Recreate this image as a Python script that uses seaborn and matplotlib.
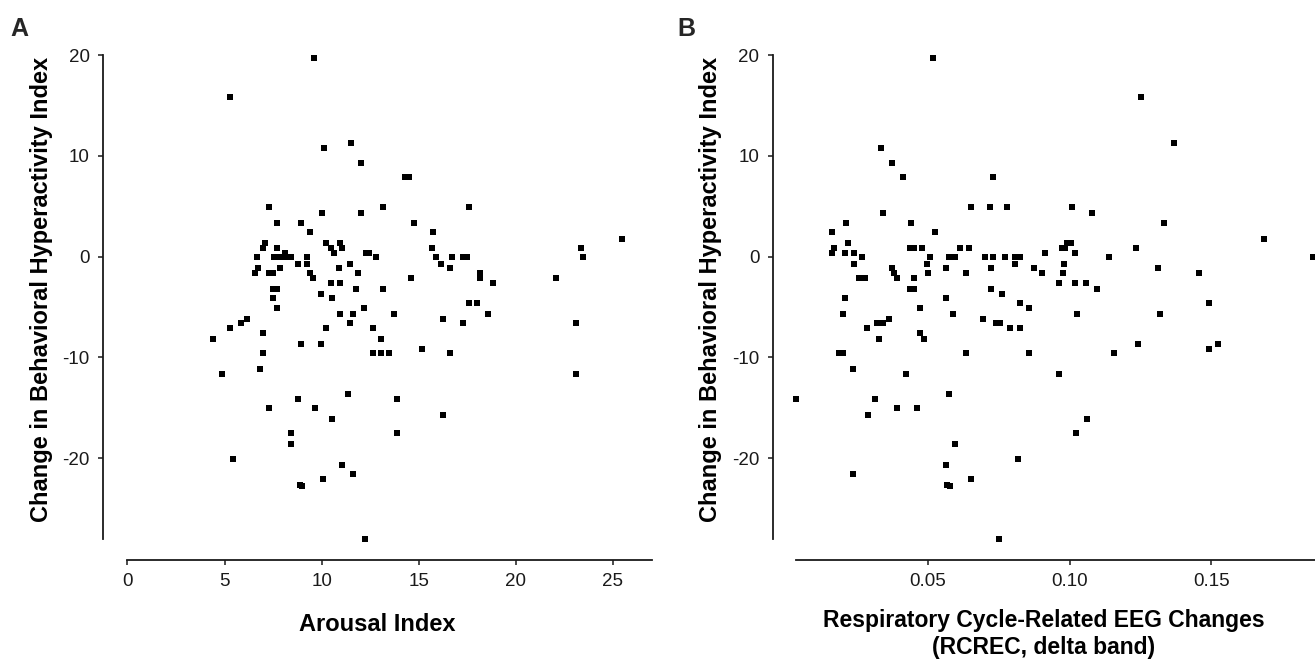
import numpy as np
import pandas as pd
import seaborn as sns
import matplotlib
matplotlib.use("Agg")
import matplotlib.pyplot as plt

# Panel A: Arousal Index vs change in hyperactivity
arousal = [9.6, 5.3, 10.1, 11.5, 12.0, 7.3, 10.0, 12.0, 7.7, 8.95, 9.4, 7.1, 7.0, 7.7,
           10.24, 10.96, 10.5, 10.65, 11.06, 8.13, 6.68, 7.56, 7.87, 8.13, 8.44, 9.26,
           12.3, 12.45, 12.81, 6.74, 6.58, 7.3, 7.51, 7.87, 8.8, 9.26, 9.41, 9.57, 10.91,
           11.47, 11.89, 10.5, 10.96, 11.78, 7.51, 7.71, 7.51, 9.98, 10.55,
           14.29, 14.51, 13.17, 17.6, 14.77, 15.75, 15.69, 15.9, 16.73, 17.28, 17.47,
           16.16, 16.62, 18.17, 18.17, 18.84, 14.61, 22.08, 23.37, 23.47, 25.48, 13.17,
           7.71, 12.19, 10.96, 11.63, 6.17, 5.86, 11.47, 5.29, 6.99, 10.24, 12.66, 4.42,
           13.07, 8.95, 9.98, 6.99, 12.66, 13.07, 6.84, 4.88, 11.37, 8.8, 7.3, 9.67,
           10.55, 8.44, 8.44, 5.45, 11.06, 11.63, 10.08, 8.9, 9.0, 12.25,
           17.6, 18.01, 13.74, 18.58, 16.26, 17.29, 23.11, 13.48, 15.18, 16.62, 23.11,
           13.89, 16.26, 13.89]
change_a = [19.7, 15.8, 10.8, 11.25, 9.25, 4.9, 4.3, 4.3, 3.3, 3.3, 2.4, 1.33, 0.83, 0.83,
            1.33, 1.33, 0.83, 0.33, 0.83, 0.33, 0.0, 0.0, 0.0, 0.0, 0.0, 0.0,
            0.33, 0.33, 0.0, -1.15, -1.65, -1.65, -1.65, -1.15, -0.75, -0.75, -1.65, -2.14, -1.15,
            -0.75, -1.65, -2.64, -2.64, -3.23, -3.23, -3.23, -4.1, -3.73, -4.1,
            7.87, 7.87, 4.9, 4.9, 3.31, 2.42, 0.83, 0.0, 0.0, 0.0, 0.0,
            -0.75, -1.15, -1.65, -2.14, -2.64, -2.14, -2.14, 0.83, 0.0, 1.73, -3.23,
            -5.12, -5.12, -5.71, -5.71, -6.21, -6.61, -6.61, -7.11, -7.6, -7.11, -7.11, -8.2,
            -8.2, -8.69, -8.69, -9.59, -9.59, -9.59, -11.17, -11.67, -13.65, -14.15, -15.04, -15.04,
            -16.13, -17.52, -18.61, -20.1, -20.7, -21.59, -22.08, -22.6, -22.7, -28.04,
            -4.63, -4.63, -5.71, -5.71, -6.21, -6.61, -6.61, -9.59, -9.19, -9.59, -11.67,
            -14.15, -15.73, -17.52]

# Panel B: RCREC (delta band) vs change in hyperactivity
rcrec = [0.0519, 0.0335, 0.0374, 0.0413, 0.0731, 0.0342, 0.0653, 0.0720, 0.0780, 0.0212,
         0.0441, 0.0162, 0.0526, 0.0219, 0.0169, 0.0162, 0.0208, 0.0240, 0.0268, 0.0240,
         0.0258, 0.0279, 0.0208, 0.0374, 0.0381, 0.0392, 0.0436, 0.0452, 0.0480, 0.0452,
         0.0436, 0.0452, 0.0498, 0.0501, 0.0508, 0.0565, 0.0575, 0.0597, 0.0565, 0.0614,
         0.0646, 0.0635, 0.0703, 0.0731, 0.0724, 0.0773, 0.0808, 0.0826, 0.0808, 0.0724,
         0.0763, 0.0875, 0.0904, 0.0914,
         0.1253, 0.1370, 0.1010, 0.1080, 0.1334, 0.0992, 0.1006, 0.0973, 0.0985, 0.1020,
         0.1235, 0.1140, 0.1687, 0.1860, 0.0981, 0.0975, 0.1313, 0.1458, 0.0963, 0.1020,
         0.1059, 0.1098,
         0.0826, 0.0858, 0.0201, 0.0473, 0.0590, 0.0364, 0.0321, 0.0342, 0.0695, 0.0741,
         0.0755, 0.0286, 0.0791, 0.0826, 0.0473, 0.0328, 0.0487, 0.0187, 0.0201, 0.0635,
         0.0858, 0.0237, 0.0424, 0.0035, 0.0314, 0.0575, 0.0392, 0.0462, 0.0289, 0.0597,
         0.0819, 0.0565, 0.0237, 0.0653, 0.0568, 0.0576, 0.0752,
         0.1493, 0.1025, 0.1320, 0.1243, 0.1493, 0.1525, 0.1158, 0.0963, 0.1063, 0.1024]
change_b = [19.7, 10.82, 9.25, 7.87, 7.87, 4.3, 4.9, 4.9, 4.9, 3.31,
            3.31, 2.42, 2.42, 1.33, 0.83, 0.33, 0.33, 0.33, 0.0, -0.75,
            -2.14, -2.14, -4.07, -1.15, -1.65, -2.14, 0.83, 0.83, 0.83, -2.14,
            -3.23, -3.23, -0.75, -1.65, 0.0, -1.15, 0.0, 0.0, -4.07, 0.83,
            0.83, -1.65, 0.0, 0.0, -1.15, 0.0, 0.0, 0.0, -0.75, -3.23,
            -3.73, -1.15, -1.65, 0.33,
            15.81, 11.25, 4.9, 4.3, 3.31, 1.33, 1.33, 0.83, 0.83, 0.33,
            0.83, 0.0, 1.73, 0.0, -0.75, -1.65, -1.15, -1.65, -2.64, -2.64,
            -2.64, -3.23,
            -4.63, -5.12, -5.71, -5.12, -5.71, -6.21, -6.61, -6.61, -6.21, -6.61,
            -6.61, -7.11, -7.11, -7.11, -7.6, -8.2, -8.2, -9.59, -9.59, -9.59,
            -9.59, -11.17, -11.67, -14.15, -14.15, -13.65, -15.04, -15.04, -15.73, -18.61,
            -20.1, -20.7, -21.59, -22.08, -22.6, -22.7, -28.04,
            -4.63, -5.71, -5.71, -8.69, -9.19, -8.69, -9.59, -11.67, -16.13, -17.52]

df_a = pd.DataFrame({"x": arousal, "y": change_a})
df_b = pd.DataFrame({"x": rcrec, "y": change_b})

sns.set_style("ticks")
plt.rcParams["font.family"] = ["Liberation Sans", "DejaVu Sans"]
plt.rcParams["axes.unicode_minus"] = False

fig = plt.figure(figsize=(13.15, 6.6), dpi=100)
ax_a = fig.add_axes([0.0781, 0.1515, 0.4177, 0.7727])
ax_b = fig.add_axes([0.5875, 0.1515, 0.4125, 0.7727])

ylab = "Change in Behavioral Hyperactivity Index"

def style_axis(ax, xlim, xbound_lo, ylab_x):
    ax.set_ylim(-30.09, 20.5)
    ax.set_xlim(*xlim)
    ax.set_yticks([-20, -10, 0, 10, 20])
    ax.spines["top"].set_visible(False)
    ax.spines["right"].set_visible(False)
    ax.spines["left"].set_bounds(-28.04, 20)
    ax.spines["bottom"].set_bounds(xbound_lo, xlim[1])
    for s in ["left", "bottom"]:
        ax.spines[s].set_linewidth(1.3)
        ax.spines[s].set_color("#1a1a1a")
    ax.tick_params(axis="both", labelsize=13.5, length=3.5, width=1.1, color="#1a1a1a",
                   labelcolor="#1a1a1a", pad=6)
    ax.set_ylabel(ylab, fontsize=17, fontweight="bold", color="black")
    ax.yaxis.set_label_coords(ylab_x, 0.53)

sns.scatterplot(data=df_a, x="x", y="y", ax=ax_a, marker="s", s=13, color="black",
                linewidth=0)
style_axis(ax_a, (-1.277, 27.01), 0, -0.090)
ax_a.set_xticks([0, 5, 10, 15, 20, 25])
ax_a.set_xlabel("Arousal Index", fontsize=17, fontweight="bold", color="black")
ax_a.xaxis.set_label_coords(0.5, -0.103)

sns.scatterplot(data=df_b, x="x", y="y", ax=ax_b, marker="s", s=13, color="black",
                linewidth=0)
style_axis(ax_b, (-0.00487, 0.18662), min(rcrec), -0.093)
ax_b.set_xticks([0.05, 0.10, 0.15])
ax_b.set_xticklabels(["0.05", "0.10", "0.15"])
ax_b.set_xlabel("Respiratory Cycle-Related EEG Changes\n(RCREC, delta band)",
                fontsize=16.5, fontweight="bold", color="black", linespacing=1.2)
ax_b.xaxis.set_label_coords(0.5, -0.097)

fig.text(0.008, 0.945, "A", fontsize=18, fontweight="bold")
fig.text(0.515, 0.945, "B", fontsize=18, fontweight="bold")

fig.savefig("out.png", dpi=100)
